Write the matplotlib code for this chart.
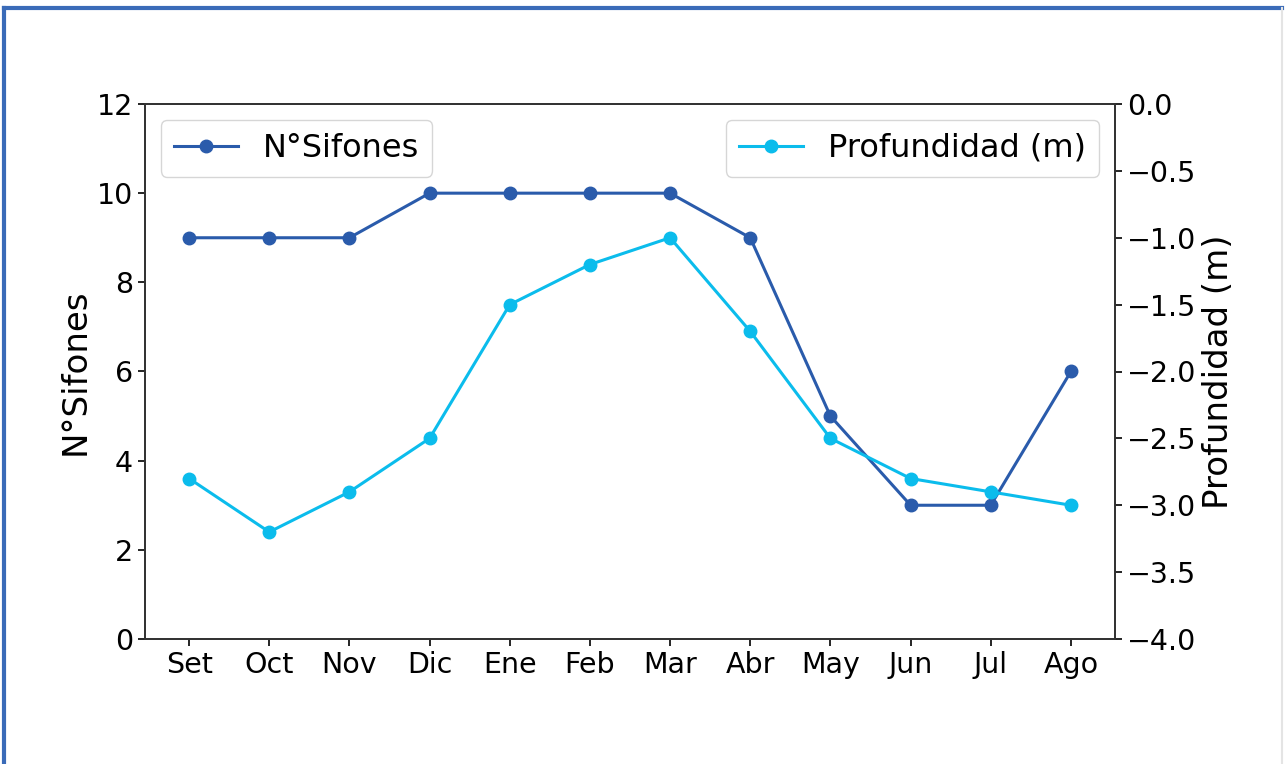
import matplotlib
matplotlib.use("Agg")
import matplotlib.pyplot as plt

months = ["Set", "Oct", "Nov", "Dic", "Ene", "Feb", "Mar", "Abr", "May", "Jun", "Jul", "Ago"]
sifones = [9, 9, 9, 10, 10, 10, 10, 9, 5, 3, 3, 6]
profundidad = [-2.8, -3.2, -2.9, -2.5, -1.5, -1.2, -1.0, -1.7, -2.5, -2.8, -2.9, -3.0]

c_dark = "#2a5bab"
c_light = "#0bbcec"
fs = 20.5
lfs = 23
yfs = 24.5

fig = plt.figure(figsize=(12.85, 7.64), dpi=100)
ax = fig.add_axes([145/1285, 1-639/764, (1115-145)/1285, (639-104)/764])
x = list(range(len(months)))
ax.plot(x, sifones, "-o", color=c_dark, lw=2.2, ms=9, label="N°Sifones")
ax.set_ylim(0, 12)
ax.set_xlim(-0.55, 11.55)
ax.set_xticks(x)
ax.set_xticklabels(months)
ax.set_ylabel("N°Sifones", fontsize=yfs)
ax.tick_params(labelsize=fs, length=5, width=1.2)
for s in ax.spines.values():
    s.set_linewidth(1.3)
    s.set_color("#333333")
ax.legend(loc="upper left", fontsize=lfs)

ax2 = ax.twinx()
ax2.plot(x, profundidad, "-o", color=c_light, lw=2.2, ms=9, label="Profundidad (m)")
ax2.set_ylim(-4, 0)
ax2.set_ylabel("Profundidad (m)", fontsize=yfs)
ax2.tick_params(labelsize=fs, length=5, width=1.2)
for s in ax2.spines.values():
    s.set_linewidth(1.3)
    s.set_color("#333333")
ax2.legend(loc="upper right", fontsize=lfs)

# figure border
fig.add_artist(plt.Line2D([4/1285, 4/1285], [0, 1-8/764], transform=fig.transFigure, color="#3a6bb8", lw=3))
fig.add_artist(plt.Line2D([4/1285, 1282/1285], [1-8/764, 1-8/764], transform=fig.transFigure, color="#3a6bb8", lw=3))
fig.add_artist(plt.Line2D([1282/1285, 1282/1285], [0, 1-8/764], transform=fig.transFigure, color="#e4e4e4", lw=1.5))

fig.savefig("out.png", dpi=100)
